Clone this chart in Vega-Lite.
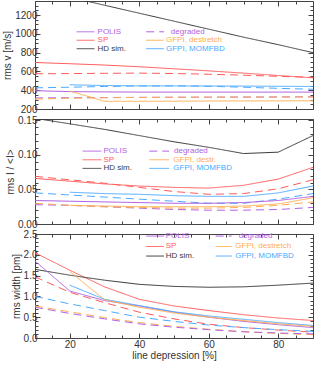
{
  "$schema": "https://vega.github.io/schema/vega-lite/v6.json",
  "padding": {"left": 2, "top": 0, "right": 1, "bottom": 1},
  "spacing": 10,
  "bounds": "flush",
  "config": {
    "view": {"stroke": "#444", "strokeWidth": 1},
    "font": "Liberation Sans",
    "axis": {"domain": false, "grid": false, "tickColor": "#444", "labelColor": "#333", "titleColor": "#333", "labelFontSize": 10, "titleFontSize": 10, "titleFontWeight": "normal", "labelFont": "Liberation Sans", "titleFont": "Liberation Sans", "titlePadding": 2, "labelPadding": 3}
  },
  "datasets": {
    "lines": [
      {"p":1,"s":"SP","k":"solid","x":10,"y":695},{"p":1,"s":"SP","k":"solid","x":20,"y":682},{"p":1,"s":"SP","k":"solid","x":30,"y":668},{"p":1,"s":"SP","k":"solid","x":40,"y":650},{"p":1,"s":"SP","k":"solid","x":50,"y":628},{"p":1,"s":"SP","k":"solid","x":60,"y":606},{"p":1,"s":"SP","k":"solid","x":70,"y":582},{"p":1,"s":"SP","k":"solid","x":80,"y":557},{"p":1,"s":"SP","k":"solid","x":90,"y":532},
      {"p":1,"s":"SP","k":"degraded","x":10,"y":575},{"p":1,"s":"SP","k":"degraded","x":20,"y":577},{"p":1,"s":"SP","k":"degraded","x":30,"y":580},{"p":1,"s":"SP","k":"degraded","x":40,"y":582},{"p":1,"s":"SP","k":"degraded","x":50,"y":578},{"p":1,"s":"SP","k":"degraded","x":60,"y":570},{"p":1,"s":"SP","k":"degraded","x":70,"y":560},{"p":1,"s":"SP","k":"degraded","x":80,"y":548},{"p":1,"s":"SP","k":"degraded","x":90,"y":537},
      {"p":1,"s":"HD sim.","k":"solid","x":10,"y":1470},{"p":1,"s":"HD sim.","k":"solid","x":20,"y":1390},{"p":1,"s":"HD sim.","k":"solid","x":30,"y":1305},{"p":1,"s":"HD sim.","k":"solid","x":40,"y":1220},{"p":1,"s":"HD sim.","k":"solid","x":50,"y":1135},{"p":1,"s":"HD sim.","k":"solid","x":60,"y":1050},{"p":1,"s":"HD sim.","k":"solid","x":70,"y":965},{"p":1,"s":"HD sim.","k":"solid","x":80,"y":885},{"p":1,"s":"HD sim.","k":"solid","x":90,"y":800},
      {"p":1,"s":"POLIS","k":"solid","x":10,"y":395},{"p":1,"s":"POLIS","k":"solid","x":20,"y":385},{"p":1,"s":"POLIS","k":"solid","x":30,"y":382},{"p":1,"s":"POLIS","k":"solid","x":40,"y":380},{"p":1,"s":"POLIS","k":"solid","x":50,"y":380},{"p":1,"s":"POLIS","k":"solid","x":60,"y":380},{"p":1,"s":"POLIS","k":"solid","x":70,"y":380},{"p":1,"s":"POLIS","k":"solid","x":80,"y":380},{"p":1,"s":"POLIS","k":"solid","x":90,"y":380},
      {"p":1,"s":"POLIS","k":"degraded","x":10,"y":318},{"p":1,"s":"POLIS","k":"degraded","x":20,"y":320},{"p":1,"s":"POLIS","k":"degraded","x":30,"y":322},{"p":1,"s":"POLIS","k":"degraded","x":40,"y":324},{"p":1,"s":"POLIS","k":"degraded","x":50,"y":325},{"p":1,"s":"POLIS","k":"degraded","x":60,"y":326},{"p":1,"s":"POLIS","k":"degraded","x":70,"y":327},{"p":1,"s":"POLIS","k":"degraded","x":80,"y":328},{"p":1,"s":"POLIS","k":"degraded","x":90,"y":330},
      {"p":1,"s":"GFPI, destretch","k":"solid","x":20,"y":392},{"p":1,"s":"GFPI, destretch","k":"solid","x":30,"y":282},{"p":1,"s":"GFPI, destretch","k":"solid","x":40,"y":282},{"p":1,"s":"GFPI, destretch","k":"solid","x":50,"y":283},{"p":1,"s":"GFPI, destretch","k":"solid","x":60,"y":285},{"p":1,"s":"GFPI, destretch","k":"solid","x":70,"y":286},{"p":1,"s":"GFPI, destretch","k":"solid","x":80,"y":287},{"p":1,"s":"GFPI, destretch","k":"solid","x":90,"y":288},
      {"p":1,"s":"GFPI, destretch","k":"degraded","x":10,"y":305},{"p":1,"s":"GFPI, destretch","k":"degraded","x":20,"y":315},{"p":1,"s":"GFPI, destretch","k":"degraded","x":30,"y":320},{"p":1,"s":"GFPI, destretch","k":"degraded","x":40,"y":323},{"p":1,"s":"GFPI, destretch","k":"degraded","x":50,"y":325},{"p":1,"s":"GFPI, destretch","k":"degraded","x":60,"y":326},{"p":1,"s":"GFPI, destretch","k":"degraded","x":70,"y":327},{"p":1,"s":"GFPI, destretch","k":"degraded","x":80,"y":328},{"p":1,"s":"GFPI, destretch","k":"degraded","x":90,"y":328},
      {"p":1,"s":"GFPI, MOMFBD","k":"solid","x":20,"y":458},{"p":1,"s":"GFPI, MOMFBD","k":"solid","x":30,"y":450},{"p":1,"s":"GFPI, MOMFBD","k":"solid","x":40,"y":447},{"p":1,"s":"GFPI, MOMFBD","k":"solid","x":50,"y":446},{"p":1,"s":"GFPI, MOMFBD","k":"solid","x":60,"y":445},{"p":1,"s":"GFPI, MOMFBD","k":"solid","x":70,"y":444},{"p":1,"s":"GFPI, MOMFBD","k":"solid","x":80,"y":442},{"p":1,"s":"GFPI, MOMFBD","k":"solid","x":90,"y":440},
      {"p":1,"s":"GFPI, MOMFBD","k":"degraded","x":10,"y":425},{"p":1,"s":"GFPI, MOMFBD","k":"degraded","x":20,"y":432},{"p":1,"s":"GFPI, MOMFBD","k":"degraded","x":30,"y":440},{"p":1,"s":"GFPI, MOMFBD","k":"degraded","x":40,"y":445},{"p":1,"s":"GFPI, MOMFBD","k":"degraded","x":50,"y":446},{"p":1,"s":"GFPI, MOMFBD","k":"degraded","x":60,"y":442},{"p":1,"s":"GFPI, MOMFBD","k":"degraded","x":70,"y":432},{"p":1,"s":"GFPI, MOMFBD","k":"degraded","x":80,"y":420},{"p":1,"s":"GFPI, MOMFBD","k":"degraded","x":90,"y":410},

      {"p":2,"s":"HD sim.","k":"solid","x":10,"y":0.153},{"p":2,"s":"HD sim.","k":"solid","x":20,"y":0.145},{"p":2,"s":"HD sim.","k":"solid","x":30,"y":0.137},{"p":2,"s":"HD sim.","k":"solid","x":40,"y":0.128},{"p":2,"s":"HD sim.","k":"solid","x":50,"y":0.119},{"p":2,"s":"HD sim.","k":"solid","x":60,"y":0.111},{"p":2,"s":"HD sim.","k":"solid","x":70,"y":0.102},{"p":2,"s":"HD sim.","k":"solid","x":80,"y":0.104},{"p":2,"s":"HD sim.","k":"solid","x":90,"y":0.128},
      {"p":2,"s":"SP","k":"solid","x":10,"y":0.066},{"p":2,"s":"SP","k":"solid","x":20,"y":0.062},{"p":2,"s":"SP","k":"solid","x":30,"y":0.058},{"p":2,"s":"SP","k":"solid","x":40,"y":0.055},{"p":2,"s":"SP","k":"solid","x":50,"y":0.053},{"p":2,"s":"SP","k":"solid","x":60,"y":0.052},{"p":2,"s":"SP","k":"solid","x":70,"y":0.056},{"p":2,"s":"SP","k":"solid","x":80,"y":0.065},{"p":2,"s":"SP","k":"solid","x":90,"y":0.082},
      {"p":2,"s":"SP","k":"degraded","x":10,"y":0.069},{"p":2,"s":"SP","k":"degraded","x":20,"y":0.064},{"p":2,"s":"SP","k":"degraded","x":30,"y":0.059},{"p":2,"s":"SP","k":"degraded","x":40,"y":0.053},{"p":2,"s":"SP","k":"degraded","x":50,"y":0.047},{"p":2,"s":"SP","k":"degraded","x":60,"y":0.043},{"p":2,"s":"SP","k":"degraded","x":70,"y":0.044},{"p":2,"s":"SP","k":"degraded","x":80,"y":0.051},{"p":2,"s":"SP","k":"degraded","x":90,"y":0.064},
      {"p":2,"s":"GFPI, MOMFBD","k":"solid","x":20,"y":0.046},{"p":2,"s":"GFPI, MOMFBD","k":"solid","x":30,"y":0.044},{"p":2,"s":"GFPI, MOMFBD","k":"solid","x":40,"y":0.043},{"p":2,"s":"GFPI, MOMFBD","k":"solid","x":50,"y":0.041},{"p":2,"s":"GFPI, MOMFBD","k":"solid","x":60,"y":0.040},{"p":2,"s":"GFPI, MOMFBD","k":"solid","x":70,"y":0.040},{"p":2,"s":"GFPI, MOMFBD","k":"solid","x":80,"y":0.045},{"p":2,"s":"GFPI, MOMFBD","k":"solid","x":90,"y":0.055},
      {"p":2,"s":"GFPI, MOMFBD","k":"degraded","x":10,"y":0.045},{"p":2,"s":"GFPI, MOMFBD","k":"degraded","x":20,"y":0.042},{"p":2,"s":"GFPI, MOMFBD","k":"degraded","x":30,"y":0.039},{"p":2,"s":"GFPI, MOMFBD","k":"degraded","x":40,"y":0.036},{"p":2,"s":"GFPI, MOMFBD","k":"degraded","x":50,"y":0.033},{"p":2,"s":"GFPI, MOMFBD","k":"degraded","x":60,"y":0.030},{"p":2,"s":"GFPI, MOMFBD","k":"degraded","x":70,"y":0.030},{"p":2,"s":"GFPI, MOMFBD","k":"degraded","x":80,"y":0.036},{"p":2,"s":"GFPI, MOMFBD","k":"degraded","x":90,"y":0.044},
      {"p":2,"s":"POLIS","k":"solid","x":10,"y":0.034},{"p":2,"s":"POLIS","k":"solid","x":20,"y":0.033},{"p":2,"s":"POLIS","k":"solid","x":30,"y":0.032},{"p":2,"s":"POLIS","k":"solid","x":40,"y":0.031},{"p":2,"s":"POLIS","k":"solid","x":50,"y":0.030},{"p":2,"s":"POLIS","k":"solid","x":60,"y":0.030},{"p":2,"s":"POLIS","k":"solid","x":70,"y":0.031},{"p":2,"s":"POLIS","k":"solid","x":80,"y":0.034},{"p":2,"s":"POLIS","k":"solid","x":90,"y":0.040},
      {"p":2,"s":"POLIS","k":"degraded","x":10,"y":0.028},{"p":2,"s":"POLIS","k":"degraded","x":20,"y":0.027},{"p":2,"s":"POLIS","k":"degraded","x":30,"y":0.025},{"p":2,"s":"POLIS","k":"degraded","x":40,"y":0.023},{"p":2,"s":"POLIS","k":"degraded","x":50,"y":0.021},{"p":2,"s":"POLIS","k":"degraded","x":60,"y":0.020},{"p":2,"s":"POLIS","k":"degraded","x":70,"y":0.020},{"p":2,"s":"POLIS","k":"degraded","x":80,"y":0.021},{"p":2,"s":"POLIS","k":"degraded","x":90,"y":0.024},
      {"p":2,"s":"GFPI, destretch","k":"solid","x":20,"y":0.027},{"p":2,"s":"GFPI, destretch","k":"solid","x":30,"y":0.026},{"p":2,"s":"GFPI, destretch","k":"solid","x":40,"y":0.025},{"p":2,"s":"GFPI, destretch","k":"solid","x":50,"y":0.025},{"p":2,"s":"GFPI, destretch","k":"solid","x":60,"y":0.025},{"p":2,"s":"GFPI, destretch","k":"solid","x":70,"y":0.026},{"p":2,"s":"GFPI, destretch","k":"solid","x":80,"y":0.029},{"p":2,"s":"GFPI, destretch","k":"solid","x":90,"y":0.038},
      {"p":2,"s":"GFPI, destretch","k":"degraded","x":10,"y":0.030},{"p":2,"s":"GFPI, destretch","k":"degraded","x":20,"y":0.027},{"p":2,"s":"GFPI, destretch","k":"degraded","x":30,"y":0.025},{"p":2,"s":"GFPI, destretch","k":"degraded","x":40,"y":0.024},{"p":2,"s":"GFPI, destretch","k":"degraded","x":50,"y":0.023},{"p":2,"s":"GFPI, destretch","k":"degraded","x":60,"y":0.023},{"p":2,"s":"GFPI, destretch","k":"degraded","x":70,"y":0.024},{"p":2,"s":"GFPI, destretch","k":"degraded","x":80,"y":0.027},{"p":2,"s":"GFPI, destretch","k":"degraded","x":90,"y":0.032},

      {"p":3,"s":"SP","k":"solid","x":10,"y":2.05},{"p":3,"s":"SP","k":"solid","x":20,"y":1.63},{"p":3,"s":"SP","k":"solid","x":30,"y":1.23},{"p":3,"s":"SP","k":"solid","x":40,"y":0.93},{"p":3,"s":"SP","k":"solid","x":50,"y":0.77},{"p":3,"s":"SP","k":"solid","x":60,"y":0.66},{"p":3,"s":"SP","k":"solid","x":70,"y":0.56},{"p":3,"s":"SP","k":"solid","x":80,"y":0.48},{"p":3,"s":"SP","k":"solid","x":90,"y":0.42},
      {"p":3,"s":"HD sim.","k":"solid","x":10,"y":1.65},{"p":3,"s":"HD sim.","k":"solid","x":20,"y":1.51},{"p":3,"s":"HD sim.","k":"solid","x":30,"y":1.39},{"p":3,"s":"HD sim.","k":"solid","x":40,"y":1.29},{"p":3,"s":"HD sim.","k":"solid","x":50,"y":1.24},{"p":3,"s":"HD sim.","k":"solid","x":60,"y":1.22},{"p":3,"s":"HD sim.","k":"solid","x":70,"y":1.23},{"p":3,"s":"HD sim.","k":"solid","x":80,"y":1.27},{"p":3,"s":"HD sim.","k":"solid","x":90,"y":1.32},
      {"p":3,"s":"POLIS","k":"solid","x":10,"y":1.85},{"p":3,"s":"POLIS","k":"solid","x":20,"y":1.13},{"p":3,"s":"POLIS","k":"solid","x":30,"y":0.9},{"p":3,"s":"POLIS","k":"solid","x":40,"y":0.77},{"p":3,"s":"POLIS","k":"solid","x":50,"y":0.62},{"p":3,"s":"POLIS","k":"solid","x":60,"y":0.5},{"p":3,"s":"POLIS","k":"solid","x":70,"y":0.4},{"p":3,"s":"POLIS","k":"solid","x":80,"y":0.32},{"p":3,"s":"POLIS","k":"solid","x":90,"y":0.25},
      {"p":3,"s":"GFPI, MOMFBD","k":"solid","x":20,"y":1.27},{"p":3,"s":"GFPI, MOMFBD","k":"solid","x":30,"y":0.93},{"p":3,"s":"GFPI, MOMFBD","k":"solid","x":40,"y":0.78},{"p":3,"s":"GFPI, MOMFBD","k":"solid","x":50,"y":0.63},{"p":3,"s":"GFPI, MOMFBD","k":"solid","x":60,"y":0.53},{"p":3,"s":"GFPI, MOMFBD","k":"solid","x":70,"y":0.45},{"p":3,"s":"GFPI, MOMFBD","k":"solid","x":80,"y":0.37},{"p":3,"s":"GFPI, MOMFBD","k":"solid","x":90,"y":0.3},
      {"p":3,"s":"GFPI, destretch","k":"solid","x":20,"y":1.6},{"p":3,"s":"GFPI, destretch","k":"solid","x":30,"y":0.92},{"p":3,"s":"GFPI, destretch","k":"solid","x":40,"y":0.74},{"p":3,"s":"GFPI, destretch","k":"solid","x":50,"y":0.6},{"p":3,"s":"GFPI, destretch","k":"solid","x":60,"y":0.5},{"p":3,"s":"GFPI, destretch","k":"solid","x":70,"y":0.42},{"p":3,"s":"GFPI, destretch","k":"solid","x":80,"y":0.34},{"p":3,"s":"GFPI, destretch","k":"solid","x":90,"y":0.28},
      {"p":3,"s":"SP","k":"degraded","x":10,"y":1.47},{"p":3,"s":"SP","k":"degraded","x":20,"y":1.1},{"p":3,"s":"SP","k":"degraded","x":30,"y":0.85},{"p":3,"s":"SP","k":"degraded","x":40,"y":0.62},{"p":3,"s":"SP","k":"degraded","x":50,"y":0.46},{"p":3,"s":"SP","k":"degraded","x":60,"y":0.33},{"p":3,"s":"SP","k":"degraded","x":70,"y":0.25},{"p":3,"s":"SP","k":"degraded","x":80,"y":0.19},{"p":3,"s":"SP","k":"degraded","x":90,"y":0.14},
      {"p":3,"s":"GFPI, MOMFBD","k":"degraded","x":10,"y":1.0},{"p":3,"s":"GFPI, MOMFBD","k":"degraded","x":20,"y":0.82},{"p":3,"s":"GFPI, MOMFBD","k":"degraded","x":30,"y":0.66},{"p":3,"s":"GFPI, MOMFBD","k":"degraded","x":40,"y":0.5},{"p":3,"s":"GFPI, MOMFBD","k":"degraded","x":50,"y":0.4},{"p":3,"s":"GFPI, MOMFBD","k":"degraded","x":60,"y":0.31},{"p":3,"s":"GFPI, MOMFBD","k":"degraded","x":70,"y":0.25},{"p":3,"s":"GFPI, MOMFBD","k":"degraded","x":80,"y":0.2},{"p":3,"s":"GFPI, MOMFBD","k":"degraded","x":90,"y":0.16},
      {"p":3,"s":"GFPI, destretch","k":"degraded","x":10,"y":0.77},{"p":3,"s":"GFPI, destretch","k":"degraded","x":20,"y":0.63},{"p":3,"s":"GFPI, destretch","k":"degraded","x":30,"y":0.49},{"p":3,"s":"GFPI, destretch","k":"degraded","x":40,"y":0.37},{"p":3,"s":"GFPI, destretch","k":"degraded","x":50,"y":0.28},{"p":3,"s":"GFPI, destretch","k":"degraded","x":60,"y":0.21},{"p":3,"s":"GFPI, destretch","k":"degraded","x":70,"y":0.15},{"p":3,"s":"GFPI, destretch","k":"degraded","x":80,"y":0.11},{"p":3,"s":"GFPI, destretch","k":"degraded","x":90,"y":0.08},
      {"p":3,"s":"POLIS","k":"degraded","x":10,"y":0.74},{"p":3,"s":"POLIS","k":"degraded","x":20,"y":0.59},{"p":3,"s":"POLIS","k":"degraded","x":30,"y":0.46},{"p":3,"s":"POLIS","k":"degraded","x":40,"y":0.34},{"p":3,"s":"POLIS","k":"degraded","x":50,"y":0.26},{"p":3,"s":"POLIS","k":"degraded","x":60,"y":0.2},{"p":3,"s":"POLIS","k":"degraded","x":70,"y":0.15},{"p":3,"s":"POLIS","k":"degraded","x":80,"y":0.12},{"p":3,"s":"POLIS","k":"degraded","x":90,"y":0.1}
    ],
    "legend": [
      {"p":1,"s":"POLIS","k":"solid","x":22,"x2":27.1,"tx":28,"y":1022,"label":"POLIS"},
      {"p":1,"s":"SP","k":"solid","x":22,"x2":27.1,"tx":28,"y":932,"label":"SP"},
      {"p":1,"s":"HD sim.","k":"solid","x":22,"x2":27.1,"tx":28,"y":842,"label":"HD sim."},
      {"p":1,"s":"POLIS","k":"degraded","x":42,"x2":47.1,"tx":49.1,"y":1022,"label":"degraded"},
      {"p":1,"s":"GFPI, destretch","k":"solid","x":42,"x2":47.1,"tx":47.7,"y":932,"label":"GFPI, destretch"},
      {"p":1,"s":"GFPI, MOMFBD","k":"solid","x":42,"x2":47.1,"tx":47.7,"y":842,"label":"GFPI, MOMFBD"},
      {"p":2,"s":"POLIS","k":"solid","x":23.7,"x2":29.1,"tx":29.7,"y":0.1055,"label":"POLIS"},
      {"p":2,"s":"SP","k":"solid","x":23.7,"x2":29.1,"tx":29.7,"y":0.093,"label":"SP"},
      {"p":2,"s":"HD sim.","k":"solid","x":23.7,"x2":29.1,"tx":29.7,"y":0.0805,"label":"HD sim."},
      {"p":2,"s":"POLIS","k":"degraded","x":42.9,"x2":48.6,"tx":50,"y":0.1055,"label":"degraded"},
      {"p":2,"s":"GFPI, destretch","k":"solid","x":42.9,"x2":48.6,"tx":49.8,"y":0.093,"label":"GFPI, destr."},
      {"p":2,"s":"GFPI, MOMFBD","k":"solid","x":42.9,"x2":48.6,"tx":49.8,"y":0.0805,"label":"GFPI, MOMFBD"},
      {"p":3,"s":"POLIS","k":"solid","x":42,"x2":47.1,"tx":47.6,"y":2.45,"label":"POLIS"},
      {"p":3,"s":"SP","k":"solid","x":42,"x2":47.1,"tx":47.6,"y":2.2,"label":"SP"},
      {"p":3,"s":"HD sim.","k":"solid","x":42,"x2":47.1,"tx":47.6,"y":1.97,"label":"HD sim."},
      {"p":3,"s":"POLIS","k":"degraded","x":62,"x2":66.6,"tx":68.6,"y":2.45,"label":"degraded"},
      {"p":3,"s":"GFPI, destretch","k":"solid","x":62,"x2":66.6,"tx":67.6,"y":2.2,"label":"GFPI, destretch"},
      {"p":3,"s":"GFPI, MOMFBD","k":"solid","x":62,"x2":66.6,"tx":67.6,"y":1.97,"label":"GFPI, MOMFBD"}
    ]
  },
  "vconcat": [
    {
      "width": 278, "height": 108,
      "layer": [
        {
          "data": {"name": "lines"},
          "transform": [{"filter": "datum.p === 1"}],
          "mark": {"type": "line", "clip": true, "strokeWidth": 1},
          "encoding": {
            "x": {"field": "x", "type": "quantitative", "scale": {"domain": [10, 90], "nice": false, "zero": false},
                  "axis": {"title": null, "labels": false, "values": [10,15,20,25,30,35,40,45,50,55,60,65,70,75,80,85,90], "tickSize": {"condition": {"test": "datum.value % 20 === 0", "value": -5}, "value": -3}}},
            "y": {"field": "y", "type": "quantitative", "scale": {"domain": [200, 1350], "nice": false, "zero": false},
                  "axis": {"title": "rms v [m/s]", "values": [200,250,300,350,400,450,500,550,600,650,700,750,800,850,900,950,1000,1050,1100,1150,1200,1250,1300,1350], "labelExpr": "datum.value % 200 === 0 ? datum.label : ''", "format": "d", "tickSize": {"condition": {"test": "datum.value % 200 === 0", "value": -5}, "value": -3}}},
            "color": {"field": "s", "type": "nominal", "legend": null, "scale": {"domain": ["POLIS","SP","HD sim.","GFPI, destretch","GFPI, MOMFBD"], "range": ["#b063e0","#ff5a5a","#3a3a3a","#ffad50","#4aaaff"]}},
            "strokeDash": {"field": "k", "type": "nominal", "legend": null, "scale": {"domain": ["solid","degraded"], "range": [[1,0],[8,5]]}}
          }
        },
        {
          "data": {"name": "legend"},
          "transform": [{"filter": "datum.p === 1"}],
          "mark": {"type": "rule", "strokeWidth": 1},
          "encoding": {
            "x": {"field": "x", "type": "quantitative", "scale": {"domain": [10, 90], "nice": false, "zero": false},
                  "axis": {"title": null, "labels": false, "orient": "top", "values": [10,15,20,25,30,35,40,45,50,55,60,65,70,75,80,85,90], "tickSize": {"condition": {"test": "datum.value % 20 === 0", "value": -5}, "value": -3}}},
            "x2": {"field": "x2"},
            "y": {"field": "y", "type": "quantitative", "scale": {"domain": [200, 1350], "nice": false, "zero": false},
                  "axis": {"title": null, "labels": false, "orient": "right", "values": [200,250,300,350,400,450,500,550,600,650,700,750,800,850,900,950,1000,1050,1100,1150,1200,1250,1300,1350], "tickSize": {"condition": {"test": "datum.value % 200 === 0", "value": -5}, "value": -3}}},
            "color": {"field": "s", "type": "nominal", "legend": null},
            "strokeDash": {"field": "k", "type": "nominal", "legend": null}
          }
        },
        {
          "data": {"name": "legend"},
          "transform": [{"filter": "datum.p === 1"}],
          "mark": {"type": "text", "align": "left", "baseline": "middle", "fontSize": 8, "font": "Liberation Sans"},
          "encoding": {
            "x": {"field": "tx", "type": "quantitative", "scale": {"domain": [10, 90], "nice": false, "zero": false}, "axis": null},
            "y": {"field": "y", "type": "quantitative", "scale": {"domain": [200, 1350], "nice": false, "zero": false}, "axis": null},
            "text": {"field": "label"},
            "color": {"field": "s", "type": "nominal", "legend": null}
          }
        }
      ],
      "resolve": {"axis": {"x": "independent", "y": "independent"}}
    },
    {
      "width": 278, "height": 105,
      "layer": [
        {
          "data": {"name": "lines"},
          "transform": [{"filter": "datum.p === 2"}],
          "mark": {"type": "line", "clip": true, "strokeWidth": 1},
          "encoding": {
            "x": {"field": "x", "type": "quantitative", "scale": {"domain": [10, 90], "nice": false, "zero": false},
                  "axis": {"title": null, "labels": false, "values": [10,15,20,25,30,35,40,45,50,55,60,65,70,75,80,85,90], "tickSize": {"condition": {"test": "datum.value % 20 === 0", "value": -5}, "value": -3}}},
            "y": {"field": "y", "type": "quantitative", "scale": {"domain": [0, 0.152], "nice": false, "zero": false},
                  "axis": {"title": "rms I / <I>", "values": [0,0.01,0.02,0.03,0.04,0.05,0.06,0.07,0.08,0.09,0.1,0.11,0.12,0.13,0.14,0.15], "format": ".2f", "labelExpr": "abs(datum.value*20 - round(datum.value*20)) < 0.001 ? datum.label : ''", "tickSize": {"condition": {"test": "abs(datum.value*20 - round(datum.value*20)) < 0.001", "value": -5}, "value": -3}}},
            "color": {"field": "s", "type": "nominal", "legend": null, "scale": {"domain": ["POLIS","SP","HD sim.","GFPI, destretch","GFPI, MOMFBD"], "range": ["#b063e0","#ff5a5a","#3a3a3a","#ffad50","#4aaaff"]}},
            "strokeDash": {"field": "k", "type": "nominal", "legend": null, "scale": {"domain": ["solid","degraded"], "range": [[1,0],[8,5]]}}
          }
        },
        {
          "data": {"name": "legend"},
          "transform": [{"filter": "datum.p === 2"}],
          "mark": {"type": "rule", "strokeWidth": 1},
          "encoding": {
            "x": {"field": "x", "type": "quantitative", "scale": {"domain": [10, 90], "nice": false, "zero": false},
                  "axis": {"title": null, "labels": false, "orient": "top", "values": [10,15,20,25,30,35,40,45,50,55,60,65,70,75,80,85,90], "tickSize": {"condition": {"test": "datum.value % 20 === 0", "value": -5}, "value": -3}}},
            "x2": {"field": "x2"},
            "y": {"field": "y", "type": "quantitative", "scale": {"domain": [0, 0.152], "nice": false, "zero": false},
                  "axis": {"title": null, "labels": false, "orient": "right", "values": [0,0.01,0.02,0.03,0.04,0.05,0.06,0.07,0.08,0.09,0.1,0.11,0.12,0.13,0.14,0.15], "tickSize": {"condition": {"test": "abs(datum.value*20 - round(datum.value*20)) < 0.001", "value": -5}, "value": -3}}},
            "color": {"field": "s", "type": "nominal", "legend": null},
            "strokeDash": {"field": "k", "type": "nominal", "legend": null}
          }
        },
        {
          "data": {"name": "legend"},
          "transform": [{"filter": "datum.p === 2"}],
          "mark": {"type": "text", "align": "left", "baseline": "middle", "fontSize": 8, "font": "Liberation Sans"},
          "encoding": {
            "x": {"field": "tx", "type": "quantitative", "scale": {"domain": [10, 90], "nice": false, "zero": false}, "axis": null},
            "y": {"field": "y", "type": "quantitative", "scale": {"domain": [0, 0.152], "nice": false, "zero": false}, "axis": null},
            "text": {"field": "label"},
            "color": {"field": "s", "type": "nominal", "legend": null}
          }
        }
      ],
      "resolve": {"axis": {"x": "independent", "y": "independent"}}
    },
    {
      "width": 278, "height": 104,
      "layer": [
        {
          "data": {"name": "lines"},
          "transform": [{"filter": "datum.p === 3"}],
          "mark": {"type": "line", "clip": true, "strokeWidth": 1},
          "encoding": {
            "x": {"field": "x", "type": "quantitative", "scale": {"domain": [10, 90], "nice": false, "zero": false},
                  "axis": {"title": "line depression [%]", "labelPadding": 6, "titlePadding": 1, "values": [10,15,20,25,30,35,40,45,50,55,60,65,70,75,80,85,90], "labelExpr": "datum.value % 20 === 0 ? datum.label : ''", "tickSize": {"condition": {"test": "datum.value % 20 === 0", "value": -5}, "value": -3}}},
            "y": {"field": "y", "type": "quantitative", "scale": {"domain": [0, 2.5], "nice": false, "zero": false},
                  "axis": {"title": "rms width [pm]", "values": [0,0.1,0.2,0.3,0.4,0.5,0.6,0.7,0.8,0.9,1,1.1,1.2,1.3,1.4,1.5,1.6,1.7,1.8,1.9,2,2.1,2.2,2.3,2.4,2.5], "format": ".1f", "labelExpr": "abs(datum.value*2 - round(datum.value*2)) < 0.001 ? datum.label : ''", "tickSize": {"condition": {"test": "abs(datum.value*2 - round(datum.value*2)) < 0.001", "value": -5}, "value": -3}}},
            "color": {"field": "s", "type": "nominal", "legend": null, "scale": {"domain": ["POLIS","SP","HD sim.","GFPI, destretch","GFPI, MOMFBD"], "range": ["#b063e0","#ff5a5a","#3a3a3a","#ffad50","#4aaaff"]}},
            "strokeDash": {"field": "k", "type": "nominal", "legend": null, "scale": {"domain": ["solid","degraded"], "range": [[1,0],[8,5]]}}
          }
        },
        {
          "data": {"name": "legend"},
          "transform": [{"filter": "datum.p === 3"}],
          "mark": {"type": "rule", "strokeWidth": 1},
          "encoding": {
            "x": {"field": "x", "type": "quantitative", "scale": {"domain": [10, 90], "nice": false, "zero": false},
                  "axis": {"title": null, "labels": false, "orient": "top", "values": [10,15,20,25,30,35,40,45,50,55,60,65,70,75,80,85,90], "tickSize": {"condition": {"test": "datum.value % 20 === 0", "value": -5}, "value": -3}}},
            "x2": {"field": "x2"},
            "y": {"field": "y", "type": "quantitative", "scale": {"domain": [0, 2.5], "nice": false, "zero": false},
                  "axis": {"title": null, "labels": false, "orient": "right", "values": [0,0.1,0.2,0.3,0.4,0.5,0.6,0.7,0.8,0.9,1,1.1,1.2,1.3,1.4,1.5,1.6,1.7,1.8,1.9,2,2.1,2.2,2.3,2.4,2.5], "tickSize": {"condition": {"test": "abs(datum.value*2 - round(datum.value*2)) < 0.001", "value": -5}, "value": -3}}},
            "color": {"field": "s", "type": "nominal", "legend": null},
            "strokeDash": {"field": "k", "type": "nominal", "legend": null}
          }
        },
        {
          "data": {"name": "legend"},
          "transform": [{"filter": "datum.p === 3"}],
          "mark": {"type": "text", "align": "left", "baseline": "middle", "fontSize": 8, "font": "Liberation Sans"},
          "encoding": {
            "x": {"field": "tx", "type": "quantitative", "scale": {"domain": [10, 90], "nice": false, "zero": false}, "axis": null},
            "y": {"field": "y", "type": "quantitative", "scale": {"domain": [0, 2.5], "nice": false, "zero": false}, "axis": null},
            "text": {"field": "label"},
            "color": {"field": "s", "type": "nominal", "legend": null}
          }
        }
      ],
      "resolve": {"axis": {"x": "independent", "y": "independent"}}
    }
  ]
}
